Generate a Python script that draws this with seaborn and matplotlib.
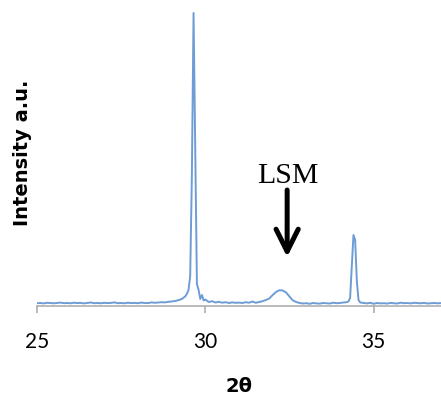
import numpy as np
import pandas as pd
import matplotlib
matplotlib.use("Agg")
import matplotlib.pyplot as plt
import seaborn as sns

# XRD scan (arbitrary counts)
two_theta = [
    25.0, 25.1, 25.2, 25.3, 25.4, 25.5, 25.6, 25.7, 25.8, 25.9,
    26.0, 26.1, 26.2, 26.3, 26.4, 26.5, 26.6, 26.7, 26.8, 26.9,
    27.0, 27.1, 27.2, 27.3, 27.4, 27.5, 27.6, 27.7, 27.8, 27.9,
    28.0, 28.1, 28.2, 28.3, 28.4, 28.5, 28.6, 28.7, 28.8, 28.9,
    29.0, 29.1, 29.2, 29.3, 29.4, 29.45, 29.5, 29.55, 29.6, 29.65,
    29.7, 29.75, 29.8, 29.85, 29.9, 29.95, 30.0,
    30.1, 30.2, 30.3, 30.4, 30.5, 30.6, 30.7, 30.8, 30.9, 31.0,
    31.1, 31.2, 31.3, 31.4, 31.5, 31.6, 31.7, 31.8, 31.9, 32.0,
    32.1, 32.2, 32.3, 32.4, 32.5, 32.6, 32.7, 32.8, 32.9, 33.0,
    33.1, 33.2, 33.3, 33.4, 33.5, 33.6, 33.7, 33.8, 33.9, 34.0,
    34.1, 34.2, 34.25, 34.3, 34.35, 34.4, 34.45, 34.5, 34.55, 34.6,
    34.7, 34.8, 34.9,
    35.0, 35.1, 35.2, 35.3, 35.4, 35.5, 35.6, 35.7, 35.8, 35.9,
    36.0, 36.1, 36.2, 36.3, 36.4, 36.5, 36.6, 36.7, 36.8, 36.9, 37.0,
]
intensity = [
    28, 30, 26, 32, 29, 27, 31, 34, 28, 30,
    27, 33, 29, 31, 26, 30, 35, 28, 30, 27,
    32, 29, 31, 36, 28, 30, 27, 33, 29, 31,
    28, 34, 30, 29, 36, 32, 35, 38, 36, 42,
    45, 50, 58, 70, 95, 120, 160, 300, 1300, 2930,
    1600, 220, 160, 70, 110, 55, 65,
    40, 48, 35, 42, 33, 38, 30, 36, 32, 34,
    30, 38, 33, 45, 32, 40, 48, 60, 75, 110,
    140, 158, 155, 135, 95, 55, 40, 30, 25, 28,
    22, 30, 26, 24, 30, 27, 25, 33, 28, 30,
    35, 38, 45, 80, 400, 710, 660, 250, 60, 35,
    30, 26, 32,
    22, 30, 26, 28, 24, 31, 27, 25, 33, 28,
    30, 26, 32, 29, 27, 31, 25, 28, 30, 27, 29,
]
tick_positions = [25, 30, 35]
tick_labels = ["25", "30", "35"]

df = pd.DataFrame({"two_theta": two_theta, "intensity": intensity})

sns.set_style("white")

fig = plt.figure(figsize=(4.41, 3.96), dpi=100)
ax = fig.add_axes([37 / 441, 90 / 396, 404 / 441, 306 / 396])

sns.lineplot(data=df, x="two_theta", y="intensity", ax=ax,
             color="#6e9dd6", lw=1.4, estimator=None)

ax.set_xlim(25, 37)
ax.set_ylim(0, 3060)
ax.set_xticks(tick_positions)
ax.set_xticklabels(tick_labels, fontfamily="Lato", fontsize=15, color="black")
ax.set_yticks([])
for s in ["top", "right", "left"]:
    ax.spines[s].set_visible(False)
ax.spines["bottom"].set_color("#a8a8a8")
ax.spines["bottom"].set_linewidth(1.1)
ax.tick_params(axis="x", bottom=True, direction="out", length=5, width=1.1,
               color="#a8a8a8", pad=14)

ax.set_xlabel("2θ", fontsize=14, fontweight="bold", family="DejaVu Sans", color="black")
ax.xaxis.set_label_coords(0.5, -(377 - 306) / 306)
ax.set_ylabel("Intensity a.u.", fontsize=14, fontweight="bold", family="DejaVu Sans",
              color="black")
ax.yaxis.set_label_coords(-0.012, 0.5)

# LSM label and arrow
ax.text(32.45, 1230, "LSM", family="Liberation Serif", fontsize=21.5,
        ha="center", va="baseline", color="black")
ax.annotate("", xy=(32.43, 490), xytext=(32.43, 1160),
            arrowprops=dict(arrowstyle="->,head_length=0.8,head_width=0.4",
                            lw=3.6, color="black", shrinkA=0, shrinkB=0,
                            mutation_scale=20))

fig.savefig("out.png", dpi=100)
